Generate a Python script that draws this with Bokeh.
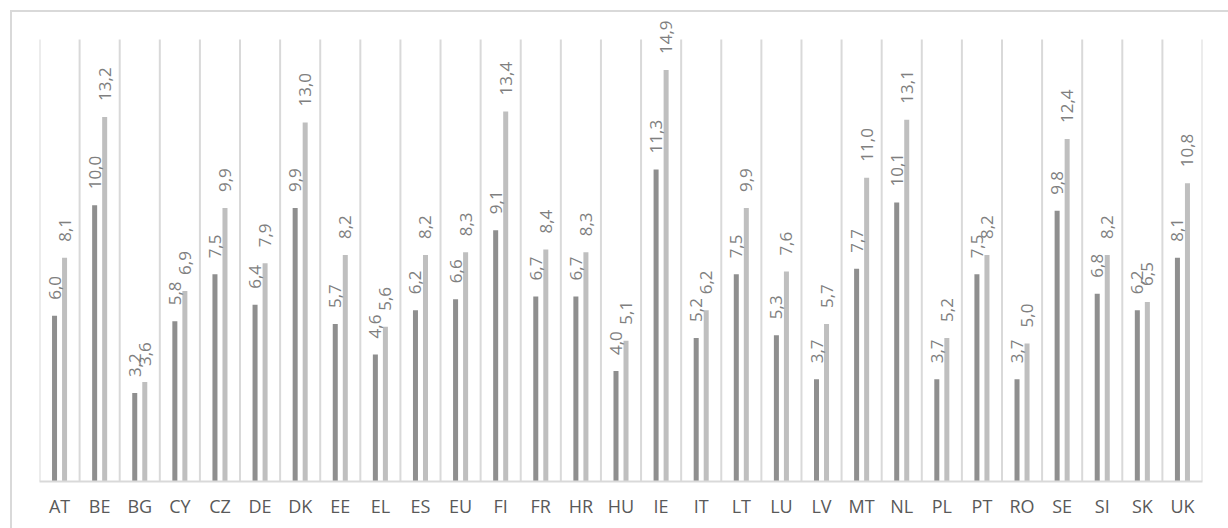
import numpy as np
from bokeh.plotting import figure
from bokeh.models import ColumnDataSource, FixedTicker, LinearAxis, Range1d
from bokeh.core.properties import value
from bokeh.embed import file_html
from bokeh.resources import INLINE

countries = ["AT", "BE", "BG", "CY", "CZ", "DE", "DK", "EE", "EL", "ES", "EU", "FI", "FR",
             "HR", "HU", "IE", "IT", "LT", "LU", "LV", "MT", "NL", "PL", "PT", "RO", "SE",
             "SI", "SK", "UK"]
series_a = [6.0, 10.0, 3.2, 5.8, 7.5, 6.4, 9.9, 5.7, 4.6, 6.2, 6.6, 9.1, 6.7,
            6.7, 4.0, 11.3, 5.2, 7.5, 5.3, 3.7, 7.7, 10.1, 3.7, 7.5, 3.7, 9.8,
            6.8, 6.2, 8.1]
series_b = [8.1, 13.2, 3.6, 6.9, 9.9, 7.9, 13.0, 8.2, 5.6, 8.2, 8.3, 13.4, 8.4,
            8.3, 5.1, 14.9, 6.2, 9.9, 7.6, 5.7, 11.0, 13.1, 5.2, 8.2, 5.0, 12.4,
            8.2, 6.5, 10.8]

DARK = "#8f8f8f"
LIGHT = "#bfbfbf"
GRID = "#d9d9d9"
FONT = "Open Sans"

n = len(countries)
centers = np.arange(n) + 0.5
off = 0.125
bw = 0.125
Y_TOP = 16          # value at top of gridlines
FRAME_H = 467       # frame pixel height (y 12 .. 479)
PX_PER = 440 / Y_TOP

def fmt(v):
    return f"{v:.1f}".replace(".", ",")

src_a = ColumnDataSource(dict(x=centers - off, top=series_a, lab=[fmt(v) for v in series_a]))
src_b = ColumnDataSource(dict(x=centers + off, top=series_b, lab=[fmt(v) for v in series_b]))
bounds = np.arange(n + 1, dtype=float)
src_g = ColumnDataSource(dict(x=bounds, y0=np.zeros(n + 1), y1=np.full(n + 1, float(Y_TOP))))

p = figure(width=1218, height=518, output_backend="svg", toolbar_location=None,
           x_range=Range1d(0, n), y_range=Range1d(0, FRAME_H / PX_PER),
           x_axis_location=None, y_axis_location=None,
           min_border_left=27, min_border_right=28, min_border_top=0, min_border_bottom=49,
           margin=(10, 0, 0, 10),
           styles={"border-left": f"2px solid {GRID}", "border-top": f"2px solid {GRID}",
                   "box-sizing": "border-box"})
p.outline_line_color = None
p.background_fill_color = "white"
p.border_fill_color = "white"
p.xgrid.grid_line_color = None
p.ygrid.grid_line_color = None

xaxis = LinearAxis(ticker=FixedTicker(ticks=list(centers)),
                   major_label_overrides={float(c): s for c, s in zip(centers, countries)})
xaxis.axis_line_color = GRID
xaxis.axis_line_width = 2
xaxis.major_tick_line_color = None
xaxis.minor_tick_line_color = None
xaxis.major_tick_out = 0
xaxis.major_tick_in = 0
xaxis.minor_tick_out = 0
xaxis.major_label_text_font = FONT
xaxis.major_label_text_font_size = "18px"
xaxis.major_label_text_color = "#595959"
xaxis.major_label_standoff = 12
p.add_layout(xaxis, "below")

p.segment(x0="x", y0="y0", x1="x", y1="y1", source=src_g, line_color=GRID, line_width=2)

p.vbar(x="x", top="top", width=bw, bottom=0, source=src_a, color=DARK, line_color=None)
p.vbar(x="x", top="top", width=bw, bottom=0, source=src_b, color=LIGHT, line_color=None)

for src in (src_a, src_b):
    p.text(x="x", y="top", text="lab", source=src, angle=np.pi / 2,
           text_align="left", text_baseline="middle", y_offset=-16,
           text_font=value(FONT), text_font_size="17px", text_color="#7f7f7f")

open("out.html", "w").write(file_html(p, INLINE))
